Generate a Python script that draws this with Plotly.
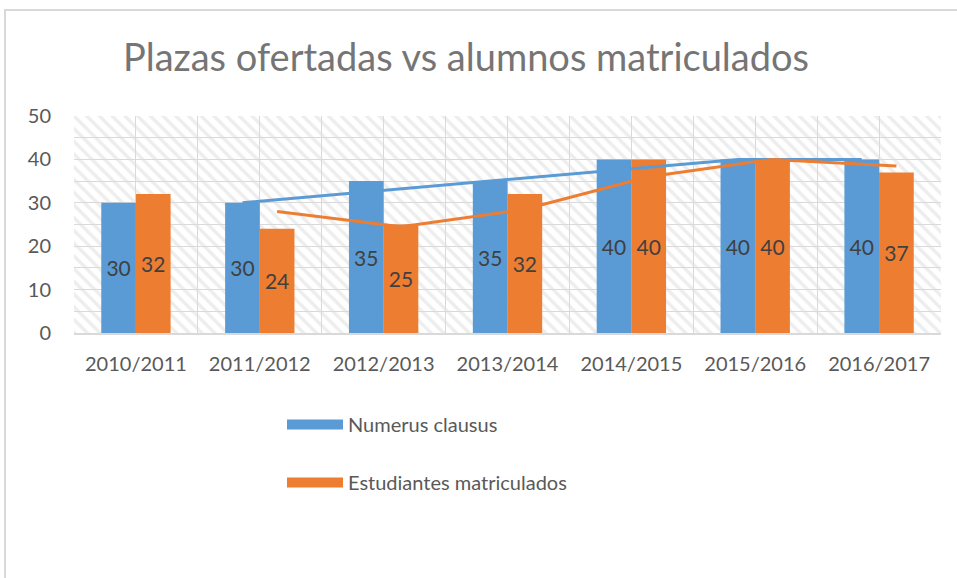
import plotly.graph_objects as go
import pandas as pd

categories = ["2010/2011", "2011/2012", "2012/2013", "2013/2014", "2014/2015", "2015/2016", "2016/2017"]
numerus_clausus = [30, 30, 35, 35, 40, 40, 40]
estudiantes = [32, 24, 25, 32, 40, 40, 37]
y_ticks = [0, 10, 20, 30, 40, 50]

# 2-period moving average trendlines (as in the original spreadsheet chart)
nc_ma = pd.Series(numerus_clausus, dtype=float).rolling(2).mean().tolist()
es_ma = pd.Series(estudiantes, dtype=float).rolling(2).mean().tolist()

BLUE = "#5B9BD5"
ORANGE = "#ED7D31"
GRID = "#d9d9d9"
TXT = "#595959"
FONT = "Lato"

W, H = 957, 578
ML, MR, MT, MB = 74, 16, 116, 245
PW = W - ML - MR
PH = H - MT - MB

fig = go.Figure()

# hatched plot-area background
fig.add_trace(go.Bar(
    x=[len(categories)], y=[y_ticks[-1]], width=[2 * len(categories)],
    xaxis="x", yaxis="y",
    marker=dict(color="rgba(0,0,0,0)", line=dict(width=0),
                pattern=dict(shape="\\", fgcolor="#dcdcdc", bgcolor="rgba(0,0,0,0)",
                             size=9, solidity=0.38)),
    showlegend=False, hoverinfo="skip",
))

fig.add_trace(go.Bar(
    x=categories, y=numerus_clausus, name="Numerus clausus",
    xaxis="x2", yaxis="y", offsetgroup="a", alignmentgroup="g",
    marker=dict(color=BLUE, line=dict(width=0)),
    text=numerus_clausus, textposition="inside", insidetextanchor="middle",
    textangle=0, textfont=dict(color="#404040", size=21, family=FONT),
    showlegend=False,
))
fig.add_trace(go.Bar(
    x=categories, y=estudiantes, name="Estudiantes matriculados",
    xaxis="x2", yaxis="y", offsetgroup="b", alignmentgroup="g",
    marker=dict(color=ORANGE, line=dict(width=0)),
    text=estudiantes, textposition="inside", insidetextanchor="middle",
    textangle=0, textfont=dict(color="#404040", size=21, family=FONT),
    showlegend=False,
))

fig.add_trace(go.Scatter(
    x=categories, y=nc_ma, mode="lines", xaxis="x2", yaxis="y",
    offsetgroup="a", alignmentgroup="g",
    line=dict(color=BLUE, width=3), showlegend=False, hoverinfo="skip",
))
fig.add_trace(go.Scatter(
    x=categories, y=es_ma, mode="lines", xaxis="x2", yaxis="y",
    offsetgroup="b", alignmentgroup="g",
    line=dict(color=ORANGE, width=3), showlegend=False, hoverinfo="skip",
))

# legend entries
fig.add_trace(go.Scatter(x=[None], y=[None], mode="lines", name="Numerus clausus",
                         xaxis="x2", yaxis="y", legendgroup="1",
                         line=dict(color=BLUE, width=13)))
fig.add_trace(go.Scatter(x=[None], y=[None], mode="lines", name="Estudiantes matriculados",
                         xaxis="x2", yaxis="y", legendgroup="2",
                         line=dict(color=ORANGE, width=13)))

def px_x(px):
    return (px - ML) / PW

def px_y(py):
    return (H - MB - py) / PH

x0 = px_x(5)
y_top = px_y(10)
fig.add_shape(type="path", xref="paper", yref="paper",
              path=f"M {x0},{px_y(600)} L {x0},{y_top} L {px_x(970)},{y_top}",
              line=dict(color=GRID, width=2))

fig.update_layout(
    width=W, height=H,
    margin=dict(l=ML, r=MR, t=MT, b=MB, autoexpand=False),
    paper_bgcolor="white", plot_bgcolor="white",
    font=dict(family=FONT, color=TXT),
    title=dict(text="Plazas ofertadas vs alumnos matriculados",
               x=466 / W, xanchor="center", y=1 - 58 / H, yanchor="middle",
               font=dict(family=FONT, size=38, color="#757575")),
    barmode="group", bargap=0.44, bargroupgap=0,
    scattermode="group", scattergap=0.44,
    xaxis=dict(range=[0, 2 * len(categories)], dtick=1, showgrid=True, gridcolor=GRID,
               gridwidth=1, showticklabels=False, zeroline=False, showline=False,
               fixedrange=True),
    xaxis2=dict(overlaying="x", side="bottom", type="category", showgrid=False,
                showline=True, linecolor=GRID, linewidth=2,
                tickfont=dict(family=FONT, size=20, color=TXT), ticks="",
                ticklabelstandoff=12),
    yaxis=dict(range=[0, 50], tickvals=y_ticks, showgrid=True, gridcolor=GRID,
               minor=dict(dtick=5, showgrid=True, gridcolor=GRID),
               zeroline=False, showline=False,
               tickfont=dict(family=FONT, size=20, color=TXT), ticks="",
               ticklabelstandoff=22),
    legend=dict(x=(282 - ML) / PW, xanchor="left", y=px_y(405), yanchor="top",
                orientation="v", traceorder="grouped", tracegroupgap=29,
                itemwidth=56, bgcolor="rgba(0,0,0,0)",
                font=dict(family=FONT, size=20, color=TXT)),
    showlegend=True,
)

fig.write_html("out.html", config={"displayModeBar": False},
               post_script="document.body.style.margin='0px';")
